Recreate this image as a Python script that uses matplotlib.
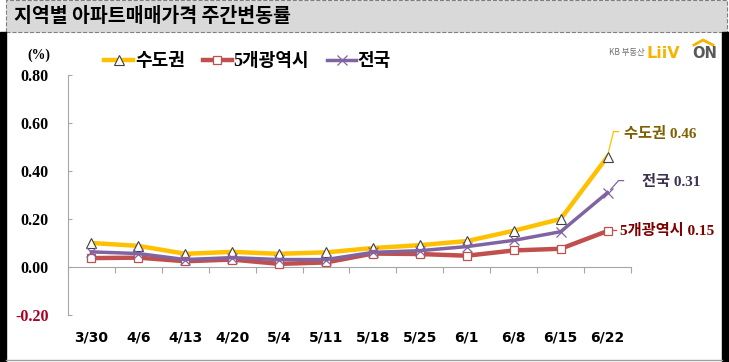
import matplotlib
matplotlib.use("Agg")
import matplotlib.pyplot as plt
from matplotlib.patches import Rectangle
from matplotlib.lines import Line2D

weeks = ["3/30", "4/6", "4/13", "4/20", "5/4", "5/11", "5/18", "5/25", "6/1", "6/8", "6/15", "6/22"]
capital = [0.10, 0.088, 0.055, 0.063, 0.055, 0.061, 0.079, 0.091, 0.108, 0.151, 0.20, 0.46]
metro5 = [0.037, 0.039, 0.024, 0.031, 0.013, 0.019, 0.056, 0.054, 0.047, 0.069, 0.076, 0.15]
nation = [0.063, 0.056, 0.031, 0.039, 0.031, 0.031, 0.061, 0.068, 0.085, 0.111, 0.147, 0.31]
yticks = [-0.20, 0.00, 0.20, 0.40, 0.60, 0.80]

KR = ["Liberation Serif", "Noto Sans CJK KR"]
W, H = 729, 362

def P(x, y):
    # pixel position -> figure fraction
    return x / W, 1 - y / H

fig = plt.figure(figsize=(W / 100, H / 100), dpi=100)
fig.patch.set_facecolor("white")

# frame and title bar
fig.add_artist(Rectangle(P(6, 32), 721 / W, 32 / H, transform=fig.transFigure,
                         facecolor="#D9D9D9", edgecolor="#7F7F7F", ls="--", lw=0.8))
fig.add_artist(Rectangle(P(0, 362), 6 / W, 330 / H, transform=fig.transFigure, color="black"))
fig.add_artist(Rectangle(P(722, 362), 7 / W, 330 / H, transform=fig.transFigure, color="black"))
fig.add_artist(Line2D([6 / W, 722 / W], [1 - 360 / H] * 2, transform=fig.transFigure, color="#A0A0A0", lw=1))
fig.text(*P(14, 17), "지역별 아파트매매가격 주간변동률", family="Noto Sans CJK KR",
         weight="heavy", fontsize=14, va="center", ha="left")

# logo
fig.text(*P(609, 53), "KB 부동산", family="Noto Sans CJK KR", fontsize=6, color="#707070", va="center")
fig.text(*P(647, 53), "LiiV", family="DejaVu Sans", weight="bold", fontsize=11.5, color="#F5B400", va="center")
fig.text(*P(692, 53), "ON", family="DejaVu Sans", weight="bold", fontsize=10.5, color="#595959", va="center")
fig.add_artist(Line2D([P(694, 45)[0], P(703, 40)[0], P(713, 45)[0]],
                      [P(694, 45)[1], P(703, 40)[1], P(713, 45)[1]],
                      transform=fig.transFigure, color="#F5B400", lw=2))

ax = fig.add_axes([68 / W, 1 - 315 / H, 563 / W, 240 / H])
x = list(range(len(weeks)))

ax.plot(x, capital, color="#FFC000", lw=3.2, marker="^", ms=7, mfc="white", mec="#404040", mew=0.8,
        label="수도권", zorder=3)
ax.plot(x, metro5, color="#C0504D", lw=3.2, marker="s", ms=5.5, mfc="white", mec="#C0504D", mew=0.9,
        label="5개광역시", zorder=3)
ax.plot(x, nation, color="#8064A2", lw=2.5, marker="x", ms=7, mec="#8064A2", mew=0.9,
        label="전국", zorder=4)

ax.set_xlim(-0.5, len(weeks) - 0.5)
ax.set_ylim(-0.2, 0.8)
for s in ["top", "right"]:
    ax.spines[s].set_visible(False)
ax.spines["left"].set_color("#A6A6A6")
ax.spines["bottom"].set_color("#A6A6A6")
ax.spines["bottom"].set_position(("data", 0))

ax.set_yticks(yticks)
ax.set_yticklabels([f"{v:.2f}" for v in yticks], family="Liberation Serif", weight="bold", fontsize=11.5)
ax.get_yticklabels()[0].set_color("#A50021")
ax.tick_params(axis="y", direction="in", length=3, color="#A6A6A6", pad=14)

ax.set_xticks([i - 0.5 for i in range(len(weeks) + 1)])
ax.set_xticklabels([])
ax.tick_params(axis="x", direction="out", length=4, color="#A6A6A6")
for i, w in enumerate(weeks):
    ax.text(i, -0.295, w, ha="center", va="center", family="DejaVu Sans", weight="bold", fontsize=10)

fig.text(*P(27, 55), "(%)", family="Liberation Serif", weight="bold", fontsize=10, va="center")

leg = ax.legend(loc="center left", bbox_to_anchor=(P(97, 62)[0], P(97, 62)[1]),
                bbox_transform=fig.transFigure, ncol=3, frameon=False,
                prop={"family": KR, "weight": "bold", "size": 13},
                handlelength=1.6, handletextpad=0.1, columnspacing=1.0, borderaxespad=0)

# end labels with leader lines (offsets in pixels from the last point)
last = len(weeks) - 1
ends = [
    ("수도권", capital[-1], "#7F6000", "#FFC000", [(1, 5), (6, 25), (11, 25)], (16, 23)),
    ("전국", nation[-1], "#3F3151", "#8064A2", [(3, 3), (11, 12), (16, 12)], (34, 11)),
    ("5개광역시", metro5[-1], "#7F0000", "#C0504D", [(3, 1), (8, 1)], (12, 0)),
]
inv = ax.transData.inverted()
for name, val, tcol, lcol, pts, toff in ends:
    px, py = ax.transData.transform((last, val))
    xy = [inv.transform((px + dx, py + dy)) for dx, dy in pts]
    ax.plot([p[0] for p in xy], [p[1] for p in xy], color=lcol, lw=0.9, clip_on=False)
    ax.annotate(f"{name} {val:.2f}", xy=(last, val), xytext=toff, textcoords="offset pixels",
                ha="left", va="center", color=tcol, family=KR, weight="bold", fontsize=11,
                annotation_clip=False)

fig.savefig("out.png", dpi=100)
